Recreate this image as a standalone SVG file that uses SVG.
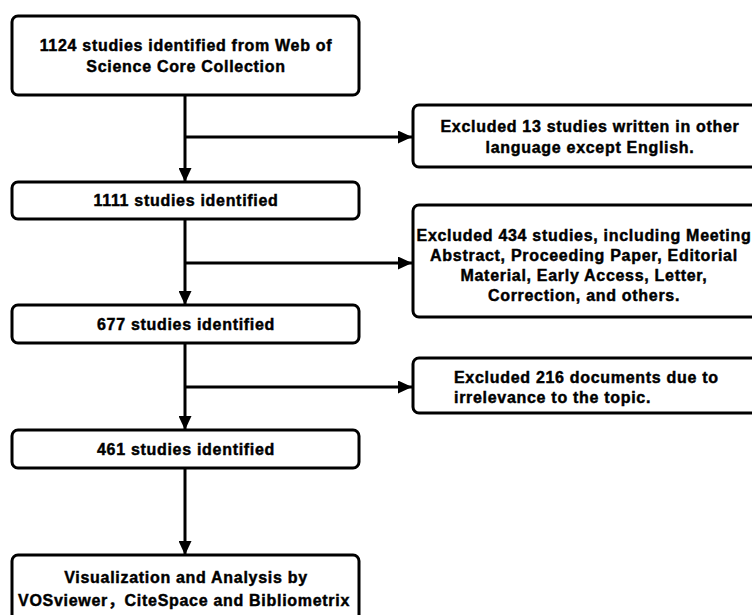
<svg xmlns="http://www.w3.org/2000/svg" width="752" height="615" viewBox="0 0 752 615">
<defs>
<marker id="ah" markerUnits="userSpaceOnUse" markerWidth="14" markerHeight="13" refX="14" refY="6.5" orient="auto">
<path d="M0,0 L14,6.5 L0,13 z" fill="#000"/>
</marker>
<style>
.box{fill:#fff;stroke:#000;stroke-width:3}
.t{font-family:"Liberation Sans",Arial,"Noto Sans CJK SC",sans-serif;font-weight:bold;font-size:16px;letter-spacing:0.7px;fill:#000;stroke:#000;stroke-width:0.45px}
.c{text-anchor:middle}
.ln{stroke:#000;stroke-width:3;fill:none}
</style>
</defs>
<rect width="752" height="615" fill="#fff"/>
<g id="connectors">
<line class="ln" x1="185" y1="95" x2="185" y2="182" marker-end="url(#ah)"/>
<line class="ln" x1="185" y1="137" x2="412" y2="137" marker-end="url(#ah)"/>
<line class="ln" x1="185" y1="219" x2="185" y2="305" marker-end="url(#ah)"/>
<line class="ln" x1="185" y1="263" x2="412" y2="263" marker-end="url(#ah)"/>
<line class="ln" x1="185" y1="343" x2="185" y2="430" marker-end="url(#ah)"/>
<line class="ln" x1="185" y1="387" x2="412" y2="387" marker-end="url(#ah)"/>
<line class="ln" x1="185" y1="468" x2="185" y2="555" marker-end="url(#ah)"/>
</g>
<g id="n1124">
<rect class="box" x="12" y="16" width="347" height="79" rx="6"/>
<text class="t c" x="186" y="51">1124 studies identified from Web of</text>
<text class="t c" x="186" y="72">Science Core Collection</text>
</g>
<g id="n1111">
<rect class="box" x="12" y="182" width="347" height="37" rx="6"/>
<text class="t c" x="186" y="206">1111 studies identified</text>
</g>
<g id="n677">
<rect class="box" x="12" y="305" width="347" height="38" rx="6"/>
<text class="t c" x="186" y="330">677 studies identified</text>
</g>
<g id="n461">
<rect class="box" x="12" y="430" width="347" height="38" rx="6"/>
<text class="t c" x="186" y="455">461 studies identified</text>
</g>
<g id="nfinal">
<rect class="box" x="12" y="555" width="347" height="80" rx="6"/>
<text class="t c" x="186" y="583">Visualization and Analysis by</text>
<text class="t c" x="184" y="606">VOSviewer，CiteSpace and Bibliometrix</text>
</g>
<g id="e13">
<rect class="box" x="413" y="105" width="360" height="62" rx="6"/>
<text class="t c" x="590" y="132">Excluded 13 studies written in other</text>
<text class="t c" x="590" y="153">language except English.</text>
</g>
<g id="e434">
<rect class="box" x="413" y="205" width="360" height="112" rx="6"/>
<text class="t c" x="584" y="241">Excluded 434 studies, including Meeting</text>
<text class="t c" x="584" y="261">Abstract, Proceeding Paper, Editorial</text>
<text class="t c" x="584" y="281">Material, Early Access, Letter,</text>
<text class="t c" x="584" y="301">Correction, and others.</text>
</g>
<g id="e216">
<rect class="box" x="413" y="358" width="360" height="55" rx="6"/>
<text class="t" x="454" y="383">Excluded 216 documents due to</text>
<text class="t" x="454" y="403">irrelevance to the topic.</text>
</g>
</svg>
